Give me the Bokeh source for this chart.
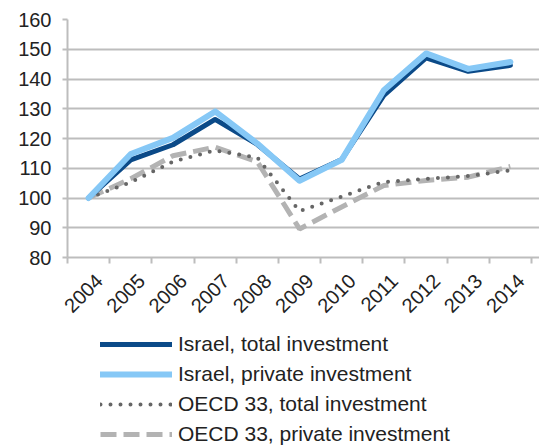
import math
from bokeh.plotting import figure
from bokeh.layouts import column
from bokeh.models import FixedTicker, Legend, LegendItem, ColumnDataSource, CustomJSTickFormatter
from bokeh.embed import file_html
from bokeh.resources import INLINE

years = ["2004", "2005", "2006", "2007", "2008", "2009", "2010", "2011", "2012", "2013", "2014"]
israel_total = [100, 112.8, 117.9, 126.4, 118.0, 106.4, 112.9, 134.5, 147.1, 142.6, 144.6]
israel_private = [100, 114.8, 120.2, 129.1, 118.3, 105.8, 112.8, 136.2, 148.6, 143.4, 145.7]
oecd_total = [100, 105.3, 112.2, 116.0, 113.6, 95.6, 100.5, 105.4, 106.4, 107.4, 109.3]
oecd_private = [100, 106.5, 114.2, 117.1, 112.2, 89.6, 97.0, 104.2, 105.9, 107.0, 110.6]
y_ticks = [80, 90, 100, 110, 120, 130, 140, 150, 160]
series_labels = ["Israel, total investment", "Israel, private investment",
                 "OECD 33, total investment", "OECD 33, private investment"]

FONT = "Liberation Sans"
TXT = "#222222"
GRID = "#bdbdbd"

styles = [
    dict(line_color="#0b4a88", line_width=5, line_join="round", line_cap="round"),
    dict(line_color="#86c8f6", line_width=6, line_join="round", line_cap="round"),
    dict(line_color="#666666", line_width=4, line_dash="0 10", line_cap="round"),
    dict(line_color="#b3b3b3", line_width=5, line_dash="16 7"),
]

xs = list(range(len(years)))
src = ColumnDataSource(dict(x=xs, it=israel_total, ip=israel_private, ot=oecd_total, op=oecd_private))

p = figure(width=539, height=328, output_backend="svg", toolbar_location=None,
           x_range=(-0.5, 10.69), y_range=(y_ticks[0], y_ticks[-1]),
           min_border_left=67, min_border_top=19, min_border_right=0, min_border_bottom=71)
p.outline_line_color = None
p.background_fill_color = "white"

p.xaxis.ticker = FixedTicker(ticks=[i + 0.25 for i in xs],
                             minor_ticks=[i - 0.5 for i in range(len(years) + 1)])
p.xaxis.formatter = CustomJSTickFormatter(args=dict(labels=years),
                                          code="return labels[Math.round(tick - 0.25)];")
p.xaxis.major_label_orientation = math.pi / 4
p.xaxis.major_tick_out = 0
p.xaxis.major_tick_in = 0
p.xaxis.minor_tick_out = 6
p.xaxis.minor_tick_in = 0
p.xaxis.minor_tick_line_color = GRID
p.xaxis.minor_tick_line_width = 2
p.xaxis.major_label_standoff = 14

p.yaxis.ticker = FixedTicker(ticks=y_ticks)
p.yaxis.major_tick_out = 5
p.yaxis.major_tick_in = 0
p.yaxis.minor_tick_line_color = None
p.yaxis.major_label_standoff = 11
p.yaxis.major_tick_line_color = GRID
p.yaxis.major_tick_line_width = 2

for ax in (p.xaxis, p.yaxis):
    ax.axis_line_color = GRID
    ax.axis_line_width = 2
    ax.major_label_text_font = FONT
    ax.major_label_text_font_size = "20px"
    ax.major_label_text_color = TXT

p.xgrid.grid_line_color = None
p.ygrid.grid_line_color = GRID
p.ygrid.grid_line_width = 2

p.line("x", "op", source=src, **styles[3])
p.line("x", "ot", source=src, **styles[2])
p.line("x", "it", source=src, **styles[0])
p.line("x", "ip", source=src, **styles[1])

# legend panel
p2 = figure(width=539, height=118, output_backend="svg", toolbar_location=None,
            x_axis_type=None, y_axis_type=None, x_range=(0, 1), y_range=(0, 1),
            min_border_left=67, min_border_right=0, min_border_top=0, min_border_bottom=0)
p2.outline_line_color = None
p2.xgrid.grid_line_color = None
p2.ygrid.grid_line_color = None
hidden = ColumnDataSource(dict(x=[-10, -9], y=[-10, -10]))
items = []
for lab, st in zip(series_labels, styles):
    r = p2.line("x", "y", source=hidden, **st)
    items.append(LegendItem(label=lab, renderers=[r]))

legend = Legend(items=items, location=(33, 0))
legend.orientation = "vertical"
legend.border_line_color = None
legend.background_fill_alpha = 0
legend.glyph_width = 72
legend.glyph_height = 20
legend.label_height = 20
legend.spacing = 6
legend.label_standoff = 6
legend.padding = 0
legend.margin = 0
legend.label_text_font = FONT
legend.label_text_font_size = "21px"
legend.label_text_color = TXT
p2.add_layout(legend, "center")

layout = column(p, p2, spacing=0)
open("out.html", "w").write(file_html(layout, INLINE))
